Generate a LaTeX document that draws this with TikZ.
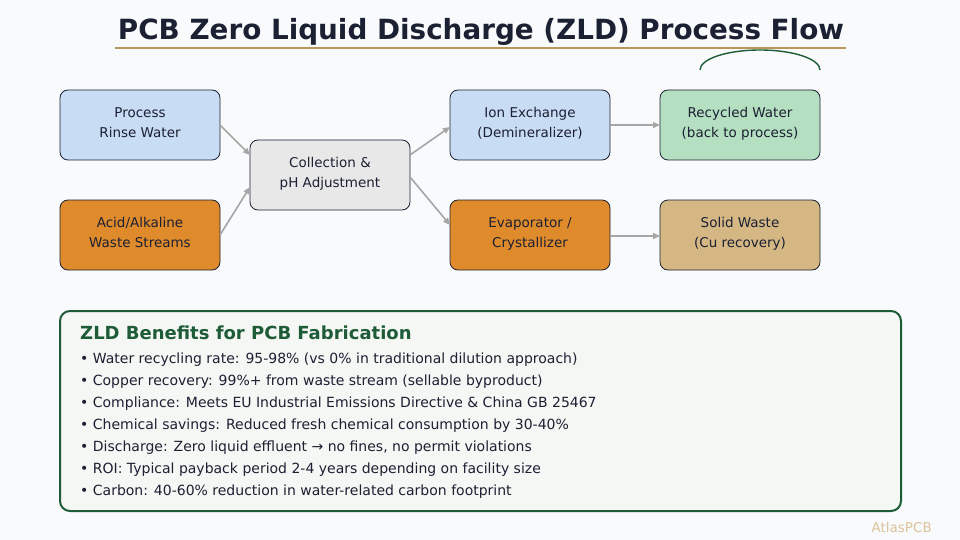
\documentclass[tikz,border=0pt]{standalone}
\usepackage{fontspec}
\setmainfont{DejaVu Sans}
\usetikzlibrary{arrows.meta,positioning}
\definecolor{pagebg}{HTML}{F8FAFC}
\definecolor{inkcol}{HTML}{1C2033}
\definecolor{rulecol}{HTML}{B8975A}
\definecolor{leafcol}{HTML}{1E5C38}
\definecolor{blueish}{HTML}{C8DCF4}
\definecolor{orangeish}{HTML}{DF8B2B}
\definecolor{greyish}{HTML}{E8E8E8}
\definecolor{greenish}{HTML}{B5DFC1}
\definecolor{tanish}{HTML}{D5B784}
\definecolor{panelcol}{HTML}{F4F7F3}
\definecolor{markcol}{HTML}{DCC39C}

\begin{document}
\begin{tikzpicture}[x=1pt,y=-1pt,
  stage/.style={draw=inkcol,line width=0.8pt,rounded corners=8pt,align=center,
    minimum width=160pt,minimum height=70pt,outer sep=0pt,text=inkcol,
    font=\fontsize{13.5}{20}\selectfont,
    execute at begin node=\rule{0pt}{11pt},
    execute at end node=\rule[-4.4pt]{0pt}{4.4pt}},
  flow/.style={-{Triangle[length=7pt,width=6pt]},draw=black!35,line width=1.6pt},
  bullet/.style={anchor=base west,inner sep=0pt,text=inkcol,
    font=\fontsize{14}{16}\selectfont}
]
  \useasboundingbox[fill=pagebg] (0,0) rectangle (960,540);
  % title
  \node[anchor=base,inner sep=0pt,text=inkcol,font=\fontsize{27.8}{32}\bfseries] (title)
    at (481,39.5) {PCB Zero Liquid Discharge (ZLD) Process Flow};
  \draw[rulecol,line width=2pt] (115,48.3) -- (846,48.3);
  \draw[leafcol,line width=1.4pt] (700,70) arc[start angle=180,end angle=360,
    x radius=60,y radius=20];

  % process stages
  \node[stage,fill=blueish] (rinse) at (140,125) {Process\\Rinse Water};
  \node[stage,fill=orangeish,below=40pt of rinse] (acid) {Acid/Alkaline\\Waste Streams};
  \node[stage,fill=greyish] (collect) at (330,175) {Collection \&\\pH Adjustment};
  \node[stage,fill=blueish] (ionex) at (530,125) {Ion Exchange\\(Demineralizer)};
  \node[stage,fill=orangeish,below=40pt of ionex] (evap) {Evaporator /\\Crystallizer};
  \node[stage,fill=greenish,right=50pt of ionex] (recyc) {Recycled Water\\(back to process)};
  \node[stage,fill=tanish,right=50pt of evap] (solid) {Solid Waste\\(Cu recovery)};

  \draw[flow] (rinse.east) -- ([yshift=20pt]collect.west);
  \draw[flow] (acid.east) -- ([yshift=-12pt]collect.west);
  \draw[flow] ([yshift=20pt]collect.east) -- ([yshift=-2pt]ionex.west);
  \draw[flow] ([yshift=-2pt]collect.east) -- ([yshift=10pt]evap.west);
  \draw[flow] (ionex.east) -- (recyc.west);
  \draw[flow] ([yshift=-1pt]evap.east) -- ([yshift=-1pt]solid.west);

  % benefits panel
  \node[draw=leafcol,line width=2pt,fill=panelcol,rounded corners=10pt,
    minimum width=841pt,minimum height=200pt,outer sep=0pt] (panel) at (480.5,411) {};
  \node[anchor=base west,inner sep=0pt,text=leafcol,font=\fontsize{18}{20}\bfseries]
    (head) at (80,339.3) {ZLD Benefits for PCB Fabrication};
  \node[bullet] (b1) at (80,363.3) {• Water recycling rate: 95-98\% (vs 0\% in traditional dilution approach)};
  \node[bullet] (b2) at (80,385.3) {• Copper recovery: 99\%+ from waste stream (sellable byproduct)};
  \node[bullet] (b3) at (80,407.3) {• Compliance: Meets EU Industrial Emissions Directive \& China GB 25467};
  \node[bullet] (b4) at (80,429.3) {• Chemical savings: Reduced fresh chemical consumption by 30-40\%};
  \node[bullet] (b5) at (80,451.3) {• Discharge: Zero liquid effluent → no fines, no permit violations};
  \node[bullet] (b6) at (80,473.3) {• ROI: Typical payback period 2-4 years depending on facility size};
  \node[bullet] (b7) at (80,495.3) {• Carbon: 40-60\% reduction in water-related carbon footprint};

  \node[anchor=base east,inner sep=0pt,text=markcol,font=\fontsize{13.5}{16}\selectfont]
    (brand) at (932,532) {AtlasPCB};
\end{tikzpicture}
\end{document}
